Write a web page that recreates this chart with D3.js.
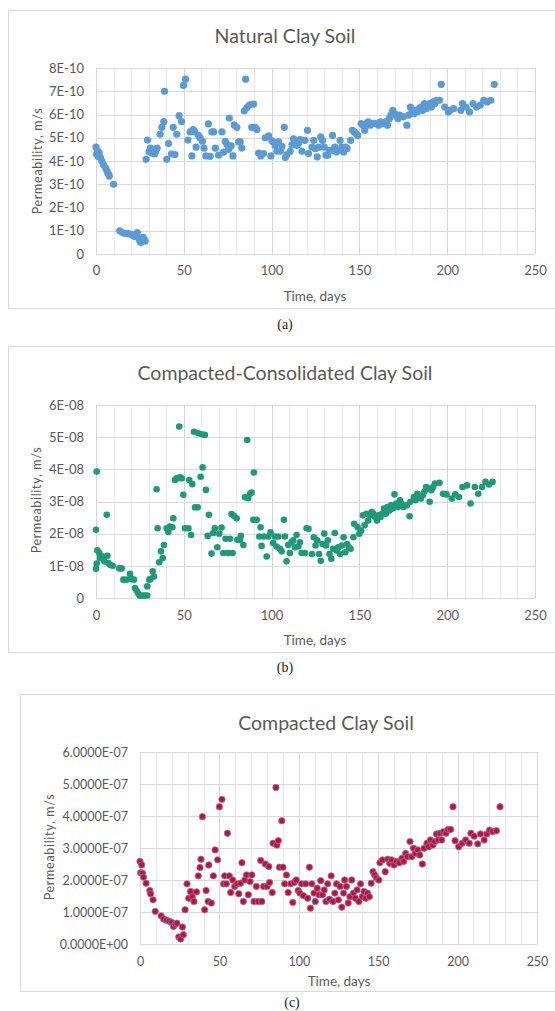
<!DOCTYPE html>
<html>
<head>
<meta charset="utf-8">
<script src="https://cdn.jsdelivr.net/npm/d3@7"></script>
<style>
  body { margin: 0; background: #fff; }
  svg { display: block; }
</style>
</head>
<body>
<svg class="vis" width="555" height="1011"></svg>
<script>

// [time in days, permeability in units of the panel's exponent]
const naturalClay = [
  [0,4.6],[0.3,4.3],[0.8,4.45],[1.2,4.2],[1.8,4.35],[2.5,4.15],[3.3,4.0],[4.2,3.85],[5.5,3.7],[6.3,3.55],[7,3.45],[7.6,3.35],[10,3.0],
  [13.5,1.0],[15,0.92],[16.5,0.88],[18.4,0.88],[20,0.85],[21,0.8],[22,0.75],[23.5,0.92],[24.2,0.7],[25,0.55],[25.6,0.5],[26.2,0.58],[26.8,0.72],[27.5,0.62],[28,0.55],
  [28.5,4.07],[29.3,4.9],[30.2,4.4],[31,4.55],[31.8,4.35],[32.5,4.45],[33.2,4.3],[34,4.4],[34.8,4.55],[36.5,5.15],[37.5,5.45],[38.6,5.7],[39,7.0],
  [40.3,4.07],[41.3,4.75],[43,4.3],[44,5.45],[45,4.28],[46,5.15],[47.3,5.95],[48.7,5.7],[49.8,7.25],[51,7.52],[52.3,4.9],[53.6,5.25],[54.6,4.22],
  [55.3,5.35],[56.3,5.25],[57,4.6],[58.3,5.1],[59.3,5.0],[60.6,4.85],[61.5,4.55],[62.5,4.22],[64,5.6],[65,4.2],[66,5.25],[67,5.25],[68,4.55],
  [69.8,4.25],[71.7,5.25],[72.6,4.38],[73.6,4.85],[74.5,4.72],[75.5,4.5],[75.9,5.85],[77,4.65],[78,4.22],[78.7,5.55],[80.2,5.45],[81.2,4.82],
  [82.1,4.82],[83,4.56],[84.4,6.15],[85.2,7.52],[85.9,6.3],[87.5,6.42],[88.7,5.45],[89.7,6.45],[90.7,5.45],[91.6,5.35],[92.6,4.34],[93.9,4.22],
  [95.4,4.32],[96.4,5.0],[98.3,5.08],[99.6,4.22],[100.2,4.87],[101,4.82],[102,4.67],[103,4.42],[104,4.82],[105,4.42],[105.9,4.63],[107.2,5.45],
  [107.8,4.15],[108.7,4.27],[110.6,4.42],[111.6,4.7],[112.5,4.95],[113.5,4.85],[114.4,4.67],[115.4,4.77],[116.3,4.92],[117.3,4.42],[119,4.89],
  [120.4,5.32],[121,4.32],[123,4.6],[124,4.89],[125,4.54],[126,4.18],[127,4.6],[128,5.04],[129,4.89],[130,4.6],[131,4.25],[132,4.25],[133,4.46],
  [134.7,5.1],[135,4.46],[136,4.6],[137,4.39],[138,4.46],[139,4.89],[140,4.6],[141,4.39],[142,4.6],[143,4.54],[145,4.89],[146,5.32],[147,5.25],
  [148,5.18],[149,5.1],[151,5.61],[152,5.54],[153,5.32],[154,5.61],[155,5.68],[156,5.54],[157,5.61],[159,5.61],[161,5.54],[162,5.68],[163,5.61],
  [165,5.68],[166,5.54],[167,5.82],[168,5.97],[169,6.18],[170,6.04],[171,5.97],[172,5.82],[173,5.97],[175,5.9],[177,5.54],[178,5.97],[179,6.32],
  [180,6.18],[181,6.04],[182,6.18],[183,6.11],[184,6.25],[185,6.32],[186,6.18],[187,6.47],[188,6.25],[189,6.4],[190,6.47],[191,6.32],[192,6.54],
  [193,6.47],[194,6.61],[195.6,6.61],[196.6,7.3],[198.6,6.32],[200.6,6.11],[201.6,6.18],[203.6,6.25],[207.7,6.18],[208.7,6.47],[210.7,6.32],
  [212.7,6.11],[214.7,6.47],[216.7,6.32],[218.8,6.4],[220.8,6.61],[222.8,6.54],[224.8,6.61],[226.8,7.3]
];

const consolidatedClay = [
  [0,0.91],[0,2.12],[0.4,3.93],[0.4,1.07],[0.8,1.48],[1.9,1.4],[2.3,1.24],[3.8,1.29],[4.7,1.14],[6.1,2.59],[6.5,1.31],[7,1.09],[8,1.03],[9.5,1.0],
  [13.3,0.92],[14.6,0.92],[15.6,0.57],[17.5,0.57],[19.4,0.75],[20.3,0.59],[21.6,0.57],[22.2,0.31],[23.1,0.23],[24.1,0.13],[25,0.07],[26.6,0.08],
  [27.9,0.08],[29.2,0.08],[29.2,0.36],[30.4,0.57],[31.1,0.59],[32.3,0.83],[33,0.67],[34.5,3.38],[35.1,2.17],[36,1.11],[37,1.45],[38,1.24],
  [38.7,1.65],[40.2,2.17],[41.2,2.05],[42.1,2.22],[43.5,2.2],[44,2.48],[45,3.67],[45.9,3.72],[47.4,5.33],[47.8,3.75],[48.8,3.72],[49.7,3.21],
  [50.7,2.17],[52.6,2.17],[53.1,3.67],[54.1,1.96],[54.8,3.54],[55.8,5.17],[56.4,2.82],[57.9,2.82],[58.3,5.12],[59.6,3.77],[60.2,5.09],[60.7,4.06],
  [62,5.07],[62.6,3.36],[63.6,1.93],[64.3,2.59],[65.8,1.38],[66.8,2.02],[67.7,2.17],[69.1,1.58],[70.2,2.0],[71.5,2.19],[72.5,1.4],[73.8,1.84],
  [75.3,1.4],[76.3,1.84],[77.2,2.61],[77.8,1.4],[78.6,2.55],[80.1,2.48],[80.5,1.81],[82,1.81],[82.5,1.93],[83.9,1.65],[84.8,3.13],[86.1,4.91],
  [86.7,3.1],[87.7,3.24],[88.6,3.28],[89.6,2.43],[89.9,3.9],[91.5,2.43],[93,1.91],[93.7,2.2],[94.3,1.62],[95.6,1.91],[97.2,1.29],[98.1,1.91],
  [99.4,2.04],[100.9,1.71],[101.9,1.91],[102.8,1.6],[103.8,1.91],[104.7,1.53],[105.7,1.45],[107,2.43],[107.6,1.91],[108.5,1.14],[109.5,1.65],
  [110.4,1.4],[111.4,1.74],[112.3,1.79],[113.3,1.58],[114.2,1.96],[115.2,1.6],[116.1,1.73],[117.1,1.4],[119,1.4],[119.9,2.17],[121,2.15],
  [123,1.37],[124,1.89],[125,1.63],[126,1.79],[127,1.37],[128,1.16],[129,1.68],[130,2.0],[131,1.63],[132,1.79],[133,1.37],[134,1.22],[135,1.53],
  [136,2.02],[137,1.48],[138,1.58],[139,1.37],[140,1.63],[141,1.89],[142,1.42],[143,1.68],[144,1.58],[145,1.53],[146.6,1.89],[147,2.31],[149,2.2],
  [150,2.0],[151,2.1],[152,2.57],[153,2.26],[154,2.62],[155,2.41],[156,2.57],[157,2.67],[158,2.62],[159,2.52],[160,2.41],[161,2.57],[162,2.52],
  [163,2.62],[164,2.78],[165,2.62],[166,2.83],[167,2.72],[168,2.88],[169,2.78],[170,3.22],[171,2.94],[172,2.83],[173,3.04],[174,2.94],[175,2.83],
  [177,2.88],[178.6,2.54],[179,2.99],[181,3.14],[182,3.04],[183,3.24],[184,3.14],[185,3.09],[186,3.19],[187,3.3],[188,3.45],[189,3.4],[190,2.99],
  [191,3.35],[192,3.45],[193,3.56],[195.6,3.58],[197.6,3.24],[199.6,3.22],[202.6,3.09],[204.6,3.22],[206.7,3.14],[208.7,3.45],[211.3,3.5],
  [213.3,2.94],[215.7,3.45],[217.7,3.24],[219.8,3.45],[221.8,3.61],[223.8,3.53],[225.8,3.61]
];

const compactedClay = [
  [0,2.58],[0.4,2.23],[1.1,2.47],[1.6,2.21],[2.2,2.09],[3.8,1.9],[6.2,1.67],[6.7,1.57],[8.2,1.38],[9.6,1.02],[13.3,0.88],[14.9,0.78],[16.7,0.74],
  [18.4,0.71],[20,0.67],[21.1,0.55],[22.2,0.62],[23.3,0.65],[24.4,0.22],[25.6,0.16],[26.7,0.53],[27.3,0.29],[28.4,1.07],[29.6,1.88],[30.7,1.43],
  [31.8,1.64],[32.9,1.48],[34,1.33],[35.6,1.63],[36.7,2.13],[37.8,2.39],[38.4,2.65],[39.3,3.98],[40.7,1.07],[41.6,1.67],[42.9,1.33],[43.3,2.47],
  [44.9,1.28],[46.2,2.13],[47.3,2.94],[48.9,2.63],[50,4.29],[51.6,4.52],[52.7,1.88],[53.3,2.13],[54.4,1.88],[55.1,3.46],[56.2,2.13],[57.1,1.61],
  [58.4,2.0],[59.6,1.8],[61.1,1.88],[62.2,1.57],[63.3,1.9],[64.2,2.54],[65.1,1.33],[66,2.0],[67.1,2.16],[68.2,1.54],[69.3,1.95],[70.4,2.16],
  [71.8,1.33],[73.3,1.8],[74.4,1.33],[76,2.61],[76.7,1.33],[77.8,1.8],[78.9,2.5],[80,1.8],[81.1,2.42],[81.6,1.92],[83.3,1.61],[83.8,3.15],
  [85.6,4.89],[86.2,3.09],[87.1,3.23],[87.8,2.4],[89.3,3.85],[90,2.4],[91.1,1.88],[92.2,2.16],[93.3,1.61],[94.9,1.88],[96.2,1.3],[97.1,1.92],
  [98.4,2.0],[99.6,1.67],[100.7,1.59],[101.8,1.88],[102.9,1.51],[104.4,1.88],[105.6,1.43],[106.7,2.4],[107.3,1.12],[108.2,1.88],[109.6,1.59],
  [110.4,1.33],[111.6,1.74],[112.7,1.54],[113.8,1.98],[114.9,1.54],[116,1.69],[117.1,1.33],[118.2,1.88],[119.3,1.4],[120.4,2.13],[121.6,1.33],
  [122.7,1.59],[123.8,1.88],[124.9,1.38],[126,1.8],[127.1,1.15],[128.2,1.59],[128.9,2.0],[130,1.8],[131.1,1.28],[132.2,1.48],[133.3,2.0],
  [134.4,1.59],[135.6,1.43],[136.7,1.69],[137.8,1.33],[138.9,1.88],[140,1.48],[141.1,1.64],[142.2,1.43],[143.3,1.59],[144.4,1.48],[145.6,1.9],
  [146.7,2.26],[147.8,2.16],[148.9,2.06],[150.4,2.0],[151.1,2.54],[152.7,2.63],[154.4,2.26],[156,2.65],[157.3,2.52],[158.4,2.63],[160,2.47],
  [161.6,2.58],[163.3,2.54],[164.9,2.68],[166,2.58],[167.3,2.83],[168.4,2.73],[170,3.2],[171.1,2.73],[172.2,2.99],[173.3,2.83],[174.9,2.94],
  [176.2,2.78],[177.8,2.5],[178.9,2.99],[180.7,3.15],[181.8,3.04],[182.9,3.25],[184.4,3.09],[185.6,3.2],[186.7,3.44],[187.8,3.25],[188.9,3.46],
  [190,3.25],[191.1,3.51],[192.7,3.46],[194,3.58],[195.6,3.58],[197.1,4.29],[198.4,3.23],[200.7,3.04],[202.9,3.15],[205.1,3.25],[207.3,3.15],
  [208.4,3.46],[210.4,3.37],[212.7,3.13],[214.4,3.44],[216.7,3.25],[218.4,3.44],[220.2,3.56],[222.2,3.51],[224.4,3.54],[226.7,4.29]
];

const units = [1e-10, 1e-8, 1e-7];
const titles = ["Natural Clay Soil", "Compacted-Consolidated Clay Soil", "Compacted Clay Soil"];
const captions = ["(a)", "(b)", "(c)"];

const xTicks = [0, 50, 100, 150, 200, 250];
const yTicksNatural = ["0", "1E-10", "2E-10", "3E-10", "4E-10", "5E-10", "6E-10", "7E-10", "8E-10"];
const yTicksConsolidated = ["0", "1E-08", "2E-08", "3E-08", "4E-08", "5E-08", "6E-08"];
const yTicksCompacted = ["0.0000E+00", "1.0000E-07", "2.0000E-07", "3.0000E-07", "4.0000E-07", "5.0000E-07", "6.0000E-07"];

const xLabel = "Time, days";
const yLabel = "Permeability, m/s";

const font = "Lato, 'Open Sans', sans-serif";
const textCol = "#595959";

const v = {

    svg : d3.select("svg.vis"),

    panel : (cfg) => {

        const g = v.svg.append("g");

        g.append("rect")
          .attr("x", cfg.box[0] + 0.5)
          .attr("y", cfg.box[1] + 0.5)
          .attr("width", cfg.box[2])
          .attr("height", cfg.box[3])
          .attr("fill", "#fff")
          .attr("stroke", "#d9d9d9");

        const x = d3.scaleLinear()
          .domain([0, 250])
          .range([cfg.left, cfg.right]);

        const yTickVals = cfg.yTicks.map((d, i) => i * cfg.unit);

        const y = d3.scaleLinear()
          .domain([0, yTickVals[yTickVals.length - 1]])
          .range([cfg.bottom, cfg.top]);

        const px = n => Math.round(n) + 0.5;

        // minor vertical grid every 10 days
        g.append("g")
          .selectAll("line")
          .data(d3.range(0, 251, 10))
          .join("line")
            .attr("x1", d => px(x(d)))
            .attr("x2", d => px(x(d)))
            .attr("y1", cfg.top)
            .attr("y2", cfg.bottom)
            .attr("stroke", d => d % 50 === 0 ? "#d4d4d4" : "#ebebeb");

        g.append("g")
          .selectAll("line")
          .data(yTickVals)
          .join("line")
            .attr("x1", cfg.left)
            .attr("x2", cfg.right)
            .attr("y1", d => px(y(d)))
            .attr("y2", d => px(y(d)))
            .attr("stroke", "#d9d9d9");

        const yAxis = g.append("g")
          .attr("transform", `translate(${cfg.left},0)`)
          .call(d3.axisLeft(y).tickValues(yTickVals).tickFormat((d, i) => cfg.yTicks[i]).tickSize(0).tickPadding(cfg.yPad));

        const xAxis = g.append("g")
          .attr("transform", `translate(0,${cfg.bottom})`)
          .call(d3.axisBottom(x).tickValues(xTicks).tickSize(0).tickPadding(cfg.xPad));

        [xAxis, yAxis].forEach(a => {
            a.select(".domain").remove();
            a.selectAll("text")
              .attr("fill", textCol)
              .style("font-family", font)
              .style("font-size", cfg.tickSize);
        });

        g.append("g")
          .selectAll("circle")
          .data(cfg.data)
          .join("circle")
            .attr("cx", d => x(d[0]))
            .attr("cy", d => y(d[1] * cfg.unit))
            .attr("r", cfg.r)
            .attr("fill", cfg.fill)
            .attr("stroke", cfg.stroke)
            .attr("stroke-width", cfg.stroke === "none" ? 0 : 0.8);

        g.append("text")
          .attr("x", cfg.titleX)
          .attr("y", cfg.titleY)
          .attr("text-anchor", "middle")
          .attr("fill", textCol)
          .style("font-family", font)
          .style("font-size", "19.5px")
          .text(cfg.title);

        g.append("text")
          .attr("x", cfg.xLabX)
          .attr("y", cfg.xLabY)
          .attr("text-anchor", "middle")
          .attr("fill", textCol)
          .style("font-family", font)
          .style("font-size", "13.5px")
          .text(xLabel);

        g.append("text")
          .attr("transform", `translate(${cfg.yLabX},${cfg.yLabY}) rotate(-90)`)
          .attr("text-anchor", "middle")
          .attr("fill", textCol)
          .style("font-family", font)
          .style("font-size", "12.5px")
          .style("letter-spacing", "0.7px")
          .text(yLabel);

        g.append("text")
          .attr("x", cfg.capX)
          .attr("y", cfg.capY)
          .attr("text-anchor", "middle")
          .attr("fill", "#222")
          .style("font-family", "'Liberation Serif', 'DejaVu Serif', serif")
          .style("font-size", "14px")
          .text(cfg.caption);

    },

    draw : () => {

        v.panel({
            data : naturalClay, unit : units[0], yTicks : yTicksNatural,
            title : titles[0], caption : captions[0],
            box : [8, 10, 560, 298],
            left : 96, right : 535, top : 68, bottom : 254,
            yPad : 12, xPad : 12, tickSize : "13px",
            fill : "#5b9bd5", stroke : "none", r : 3.6,
            titleX : 285, titleY : 43, xLabX : 315, xLabY : 301, yLabX : 42, yLabY : 161,
            capX : 285, capY : 329
        });

        v.panel({
            data : consolidatedClay, unit : units[1], yTicks : yTicksConsolidated,
            title : titles[1], caption : captions[1],
            box : [8, 346, 560, 306],
            left : 96, right : 535, top : 405, bottom : 598,
            yPad : 12, xPad : 13, tickSize : "13px",
            fill : "#1f9a78", stroke : "none", r : 3.3,
            titleX : 285, titleY : 380, xLabX : 315, xLabY : 645, yLabX : 41, yLabY : 500,
            capX : 285, capY : 672
        });

        v.panel({
            data : compactedClay, unit : units[2], yTicks : yTicksCompacted,
            title : titles[2], caption : captions[2],
            box : [20, 694, 560, 297],
            left : 140, right : 537, top : 752, bottom : 944,
            yPad : 12, xPad : 13, tickSize : "12.5px",
            fill : "#c8102e", stroke : "#8080c0", r : 3.2,
            titleX : 326, titleY : 730, xLabX : 339, xLabY : 986, yLabX : 54, yLabY : 847,
            capX : 292, capY : 1007
        });

    }

};

v.draw();
</script>
</body>
</html>
